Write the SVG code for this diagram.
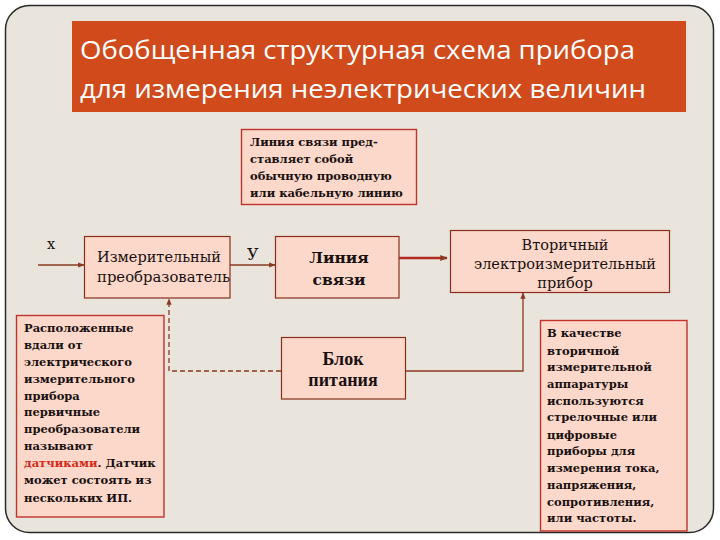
<svg xmlns="http://www.w3.org/2000/svg" width="720" height="540" viewBox="0 0 720 540">
<defs>
<style>
.box{fill:#fbd8ca;stroke:#8b2e1c;stroke-width:1.2}
.note{fill:#fbd8ca;stroke:#c0322a;stroke-width:1.4}
.sm{font-family:"DejaVu Serif","Liberation Serif",serif;font-weight:bold;font-size:11.5px;fill:#1a1010}
.reg{font-family:"DejaVu Serif","Liberation Serif",serif;font-size:14.5px;fill:#1a1010}
.bd{font-family:"DejaVu Serif","Liberation Serif",serif;font-weight:bold;font-size:15.5px;fill:#1a1010}
.ttl{font-family:"Open Sans","Liberation Sans",sans-serif;font-size:26px;fill:#ffffff}
.ln{fill:none;stroke:#8a3a20;stroke-width:1.3}
</style>
<marker id="ah" viewBox="0 0 10 10" refX="9" refY="5" markerWidth="5" markerHeight="5" orient="auto">
<path d="M0,1 L10,5 L0,9 z" fill="#8a3a20"/>
</marker>
<marker id="ahr" viewBox="0 0 10 10" refX="9" refY="5" markerWidth="3" markerHeight="3" orient="auto">
<path d="M0,1 L10,5 L0,9 z" fill="#8a3a20"/>
</marker>
</defs>
<rect x="0" y="0" width="720" height="540" fill="#ffffff"/>
<rect id="frame" x="5.5" y="5.5" width="708" height="527" rx="24" ry="24" fill="#e9e5dc" stroke="#2a2a2a" stroke-width="1.5"/>
<g id="title">
<rect x="72" y="21" width="614" height="91" fill="#d04a1b"/>
<text class="ttl" x="80" y="59" textLength="555" lengthAdjust="spacingAndGlyphs">Обобщенная структурная схема прибора</text>
<text class="ttl" x="80" y="98" textLength="566" lengthAdjust="spacingAndGlyphs">для измерения неэлектрических величин</text>
</g>
<g id="connectors">
<line class="ln" x1="38" y1="265" x2="84" y2="265" marker-end="url(#ah)"/>
<line class="ln" x1="230" y1="265" x2="275" y2="265" marker-end="url(#ah)"/>
<line x1="399" y1="258" x2="447" y2="258" stroke="#b02a1e" stroke-width="2.5" marker-end="url(#ahr)"/>
<path class="ln" d="M169,371 L169,299" stroke-dasharray="5,3" marker-end="url(#ah)"/>
<path class="ln" d="M281,371 L169,371" stroke-dasharray="5,3"/>
<path class="ln" d="M406,371 L523,371 L523,293" marker-end="url(#ah)"/>
</g>
<g id="label-x"><text class="reg" x="47" y="249">х</text></g>
<g id="label-y"><text class="reg" x="247" y="260" style="font-size:16px">У</text></g>
<g id="note-top">
<rect class="note" x="241.5" y="129.5" width="175" height="75"/>
<text class="sm" x="250" y="146">Линия связи пред-</text>
<text class="sm" x="250" y="163">ставляет собой</text>
<text class="sm" x="250" y="180">обычную проводную</text>
<text class="sm" x="250" y="197">или кабельную линию</text>
</g>
<g id="transducer">
<rect class="box" x="84.5" y="236.5" width="145.5" height="61.5"/>
<text class="reg" x="97" y="262">Измерительный</text>
<text class="reg" x="97" y="282" textLength="133" lengthAdjust="spacingAndGlyphs">преобразователь</text>
</g>
<g id="line-link">
<rect class="box" x="275.5" y="236.5" width="123.5" height="61.5"/>
<text class="bd" x="339" y="263" text-anchor="middle">Линия</text>
<text class="bd" x="339" y="285" text-anchor="middle">связи</text>
</g>
<g id="secondary">
<rect class="box" x="450.5" y="230.5" width="219" height="62"/>
<text class="reg" x="565" y="250" text-anchor="middle">Вторичный</text>
<text class="reg" x="565" y="269" text-anchor="middle">электроизмерительный</text>
<text class="reg" x="565" y="288" text-anchor="middle">прибор</text>
</g>
<g id="power">
<rect class="box" x="281.5" y="337.5" width="124" height="61.5"/>
<text x="343" y="365" text-anchor="middle" style="font-family:'Liberation Serif',serif;font-weight:bold;font-size:18px;fill:#1a1010">Блок</text>
<text x="343" y="386" text-anchor="middle" style="font-family:'Liberation Serif',serif;font-weight:bold;font-size:18px;fill:#1a1010">питания</text>
</g>
<g id="note-left">
<rect class="note" x="16.5" y="315.5" width="147.5" height="201.5"/>
<text class="sm" x="24" y="332">Расположенные</text>
<text class="sm" x="24" y="349">вдали от</text>
<text class="sm" x="24" y="366">электрического</text>
<text class="sm" x="24" y="383">измерительного</text>
<text class="sm" x="24" y="400">прибора</text>
<text class="sm" x="24" y="416">первичные</text>
<text class="sm" x="24" y="433">преобразователи</text>
<text class="sm" x="24" y="450">называют</text>
<text class="sm" x="24" y="467"><tspan fill="#d42a1a">датчиками</tspan>. Датчик</text>
<text class="sm" x="24" y="484">может состоять из</text>
<text class="sm" x="24" y="502">нескольких ИП.</text>
</g>
<g id="note-right">
<rect class="note" x="540.5" y="320.5" width="146.5" height="210.5"/>
<text class="sm" x="547" y="337">В качестве</text>
<text class="sm" x="547" y="355">вторичной</text>
<text class="sm" x="547" y="371">измерительной</text>
<text class="sm" x="547" y="388">аппаратуры</text>
<text class="sm" x="547" y="405">используются</text>
<text class="sm" x="547" y="421">стрелочные или</text>
<text class="sm" x="547" y="439">цифровые</text>
<text class="sm" x="547" y="455">приборы для</text>
<text class="sm" x="547" y="472">измерения тока,</text>
<text class="sm" x="547" y="489">напряжения,</text>
<text class="sm" x="547" y="506">сопротивления,</text>
<text class="sm" x="547" y="522">или частоты.</text>
</g>
</svg>
